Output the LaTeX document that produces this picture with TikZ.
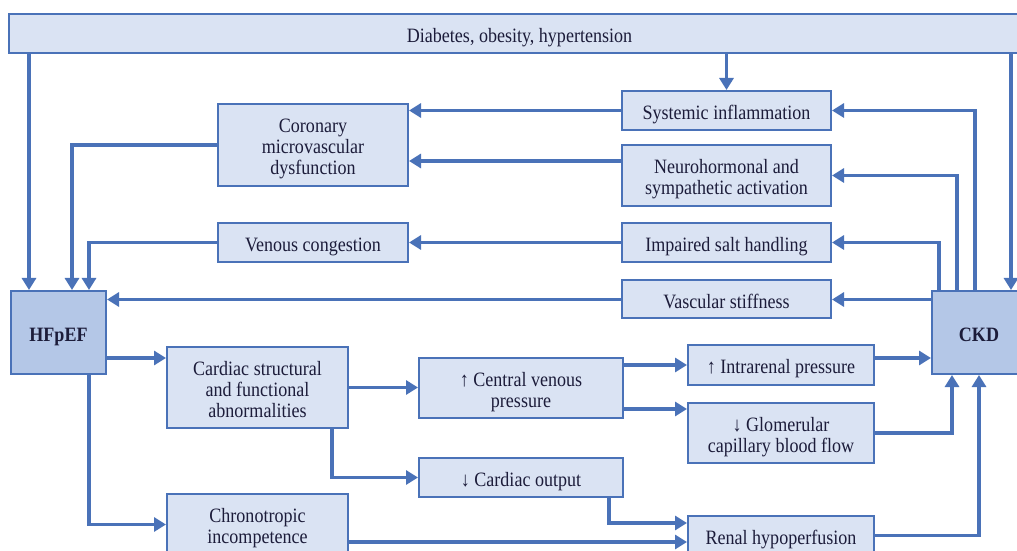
\documentclass[tikz,border=0pt]{standalone}
\usepackage{fontspec}
\usepackage{graphicx}
\setmainfont{Liberation Serif}
\usetikzlibrary{arrows.meta,calc}
\definecolor{bord}{HTML}{4A72B8}
\definecolor{lfill}{HTML}{DAE3F3}
\definecolor{dfill}{HTML}{B4C7E7}
\definecolor{txt}{HTML}{1C1C3A}
\newcommand\tx[1]{\raisebox{-4.7bp}[\height][\depth]{\scalebox{1}[1.13]{\begin{tabular}{@{}c@{}}#1\end{tabular}}}}
\begin{document}
\begin{tikzpicture}[x=1bp,y=-1bp,
  box/.style={draw=bord, fill=lfill, line width=2bp, inner sep=0pt,
    text=txt, font=\fontsize{18.1}{18.6}\selectfont},
  dbox/.style={box, fill=dfill, font=\fontsize{18.1}{18.6}\selectfont\bfseries},
  wh/.style 2 args={minimum width=#1bp, minimum height=#2bp},
  arr/.style={draw=bord, line width=3.3bp, -{Triangle[length=12bp,width=14bp]}}]
\useasboundingbox (0,0) rectangle (1017,551);
\fill[white] (0,0) rectangle (1017,551);
\clip (0,0) rectangle (1017,551);

% nodes
\node[box, wh={1021}{39}] (top) at (519.5,33.5) {\tx{Diabetes, obesity, hypertension}};
\node[box, wh={190}{82}] (cor) at (313,145) {\tx{Coronary\\microvascular\\dysfunction}};
\node[box, wh={190}{39}] (ven) at (313,242.5) {\tx{Venous congestion}};
\node[box, wh={209}{39}] (sys) at (726.5,110.5) {\tx{Systemic inflammation}};
\node[box, wh={209}{61}] (neu) at (726.5,175.5) {\tx{Neurohormonal and\\sympathetic activation}};
\node[box, wh={209}{39}] (salt) at (726.5,242.5) {\tx{Impaired salt handling}};
\node[box, wh={209}{38}] (vas) at (726.5,299.5) {\tx{Vascular stiffness}};
\node[dbox, wh={95}{83}] (hf) at (58.5,332.5) {\tx{HFpEF}};
\node[dbox, wh={94}{83}] (ckd) at (979,332.5) {\tx{CKD}};
\node[box, wh={181}{81}] (card) at (257.5,387.5) {\tx{Cardiac structural\\and functional\\abnormalities}};
\node[box, wh={181}{61}] (chr) at (257.5,524.5) {\tx{Chronotropic\\incompetence}};
\node[box, wh={204}{60}] (cvp) at (521,388) {\tx{↑ Central venous\\pressure}};
\node[box, wh={204}{39}] (cout) at (521,477.5) {\tx{↓ Cardiac output}};
\node[box, wh={186}{40}] (intra) at (781,365) {\tx{↑ Intrarenal pressure}};
\node[box, wh={186}{60}] (glom) at (781,433) {\tx{↓ Glomerular\\capillary blood flow}};
\node[box, wh={186}{39}] (ren) at (781,535.5) {\tx{Renal hypoperfusion}};

% helper coordinates
\coordinate (hfa) at ($(hf.north west)+(19,0)$);
\coordinate (hfb) at ($(hf.north west)+(62,0)$);
\coordinate (hfc) at ($(hf.north west)+(79,0)$);
\coordinate (hfd) at ($(hf.south west)+(79,0)$);
\coordinate (cka) at ($(ckd.north west)+(80,0)$);
\coordinate (ckb) at ($(ckd.north west)+(8,0)$);
\coordinate (ckc) at ($(ckd.north west)+(26,0)$);
\coordinate (ckd2) at ($(ckd.north west)+(44,0)$);
\coordinate (cke) at ($(ckd.south west)+(21,0)$);
\coordinate (ckf) at ($(ckd.north west)+(0,68)$);
\coordinate (cor2) at ($(cor.east)+(0,16)$);
\coordinate (cardin) at ($(card.north west)+(0,12)$);
\coordinate (cardb) at ($(card.south west)+(166,0)$);
\coordinate (glomin) at ($(glom.north west)+(0,7)$);
\coordinate (couta) at ($(cout.south west)+(191,0)$);
\coordinate (rena) at ($(ren.north west)+(0,8)$);
\coordinate (renb) at ($(ren.north west)+(0,27)$);

% connectors
\draw[arr] (hfa |- top.south) -- (hfa);
\draw[arr] (sys.north |- top.south) -- (sys.north);
\draw[arr] (cka |- top.south) -- (cka);
\draw[arr] (cor.west) -| (hfb);
\draw[arr] (ven.west) -| (hfc);
\draw[arr] (vas.west) -- (vas.west -| hf.east);
\draw[arr] (vas.east -| ckd.west) -- (vas.east);
\draw[arr] (ckb) |- (salt.east);
\draw[arr] (ckc) |- (neu.east);
\draw[arr] (ckd2) |- (sys.east);
\draw[arr] (sys.west) -- (sys.west -| cor.east);
\draw[arr] (neu.west |- cor2) -- (cor2);
\draw[arr] (salt.west) -- (salt.west -| ven.east);
\draw[arr] (hf.east |- cardin) -- (cardin);
\draw[arr] (hfd) |- (chr.west);
\draw[arr] (card.east) -- (card.east -| cvp.west);
\draw[arr] (cardb) |- (cout.west);
\draw[arr] (cvp.east |- intra.west) -- (intra.west);
\draw[arr] (cvp.east |- glomin) -- (glomin);
\draw[arr] (intra.east |- ckf) -- (ckf);
\draw[arr] (glom.east) -| (cke);
\draw[arr] (ren.east) -| (ckd.south);
\draw[arr] (couta) |- (rena);
\draw[arr] (chr.east |- renb) -- (renb);
\end{tikzpicture}
\end{document}
